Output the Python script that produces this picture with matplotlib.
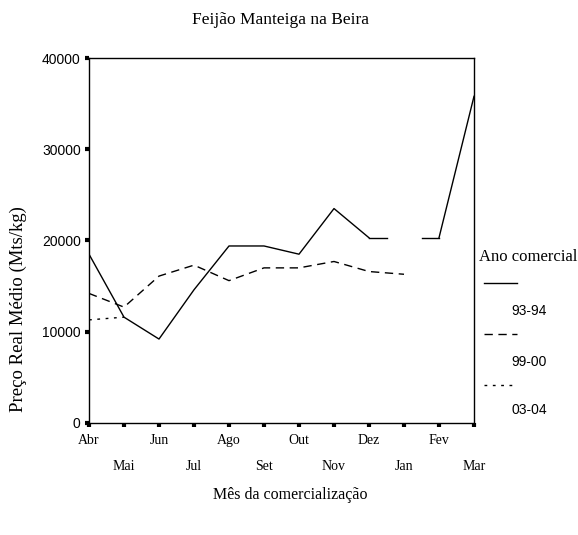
import numpy as np
import matplotlib
matplotlib.use("Agg")
import matplotlib.pyplot as plt
from matplotlib.lines import Line2D

months = ["Abr", "Mai", "Jun", "Jul", "Ago", "Set", "Out", "Nov", "Dez", "Jan", "Fev", "Mar"]
s9394 = [18500, 11600, 9200, 14600, 19400, 19400, 18500, 23500, 20300, np.nan, 20300, 35800]
s9900 = [14200, 12700, 16100, 17300, 15600, 17000, 17000, 17700, 16600, 16300, np.nan, np.nan]
s0304 = [11300, 11600, np.nan, np.nan, np.nan, np.nan, np.nan, np.nan, np.nan, np.nan, np.nan, np.nan]
series_names = ["93-94", "99-00", "03-04"]
yticks = [0, 10000, 20000, 30000, 40000]

serif = "Liberation Serif"
narrow = ["Liberation Sans Narrow", "Liberation Sans", "DejaVu Sans"]

fig = plt.figure(figsize=(5.78, 5.35), dpi=100)
ax = fig.add_axes([89/578, 1-423/535, (474-89)/578, (423-58)/535])

x = np.arange(len(months))
styles = [dict(ls="-"), dict(ls=(0, (6, 4))), dict(ls=(0, (2, 4)))]

def plot_with_gaps(vals, style):
    v = np.array(vals, dtype=float)
    ax.plot(x, v, color="black", lw=1.0, **style)
    # SPSS-style half segments toward a missing interior value
    for i in range(1, len(v) - 1):
        if np.isnan(v[i]) and not np.isnan(v[i-1]) and not np.isnan(v[i+1]):
            ax.plot([x[i-1], x[i-1] + 0.5], [v[i-1], v[i-1]], color="black", lw=1.0, **style)
            ax.plot([x[i+1] - 0.5, x[i+1]], [v[i+1], v[i+1]], color="black", lw=1.0, **style)

for vals, st in zip([s9394, s9900, s0304], styles):
    plot_with_gaps(vals, st)

ax.set_xlim(0, len(months) - 1)
ax.set_ylim(0, 40000)
ax.set_yticks(yticks)
ax.set_yticklabels([str(t) for t in yticks], family=narrow, fontsize=10)
ax.set_xticks(x)
ax.set_xticklabels([m if i % 2 == 0 else "\n\n" + m for i, m in enumerate(months)],
                   family=serif, fontsize=10, linespacing=1.0)
ax.tick_params(axis="both", direction="out", length=3, width=3, color="black")
ax.tick_params(axis="x", pad=5)
ax.tick_params(axis="y", pad=3)
for sp in ax.spines.values():
    sp.set_linewidth(1.0)

fig.text(280/578, 1-20/535, "Feijão Manteiga na Beira", ha="center", va="center",
         family=serif, fontsize=12.5)
fig.text(290/578, 1-495/535, "Mês da comercialização", ha="center", va="center",
         family=serif, fontsize=11.5)
fig.text(18/578, 1-309/535, "Preço Real Médio (Mts/kg)", ha="center", va="center",
         rotation=90, family=serif, fontsize=13.5)

# legend drawn manually in figure coords
fig.text(479/578, 1-257/535, "Ano comercial", ha="left", va="center", family=serif, fontsize=12)
leg_y_line = [283, 334, 385]
leg_y_text = [311, 362, 410]
for name, st, yl, yt in zip(series_names, styles, leg_y_line, leg_y_text):
    fig.add_artist(Line2D([484/578, 517/578], [1-yl/535, 1-yl/535], color="black", lw=1.0,
                          transform=fig.transFigure, **st))
    fig.text(511/578, 1-yt/535, name, ha="left", va="center", family=narrow, fontsize=10)

fig.savefig("out.png", dpi=100)
